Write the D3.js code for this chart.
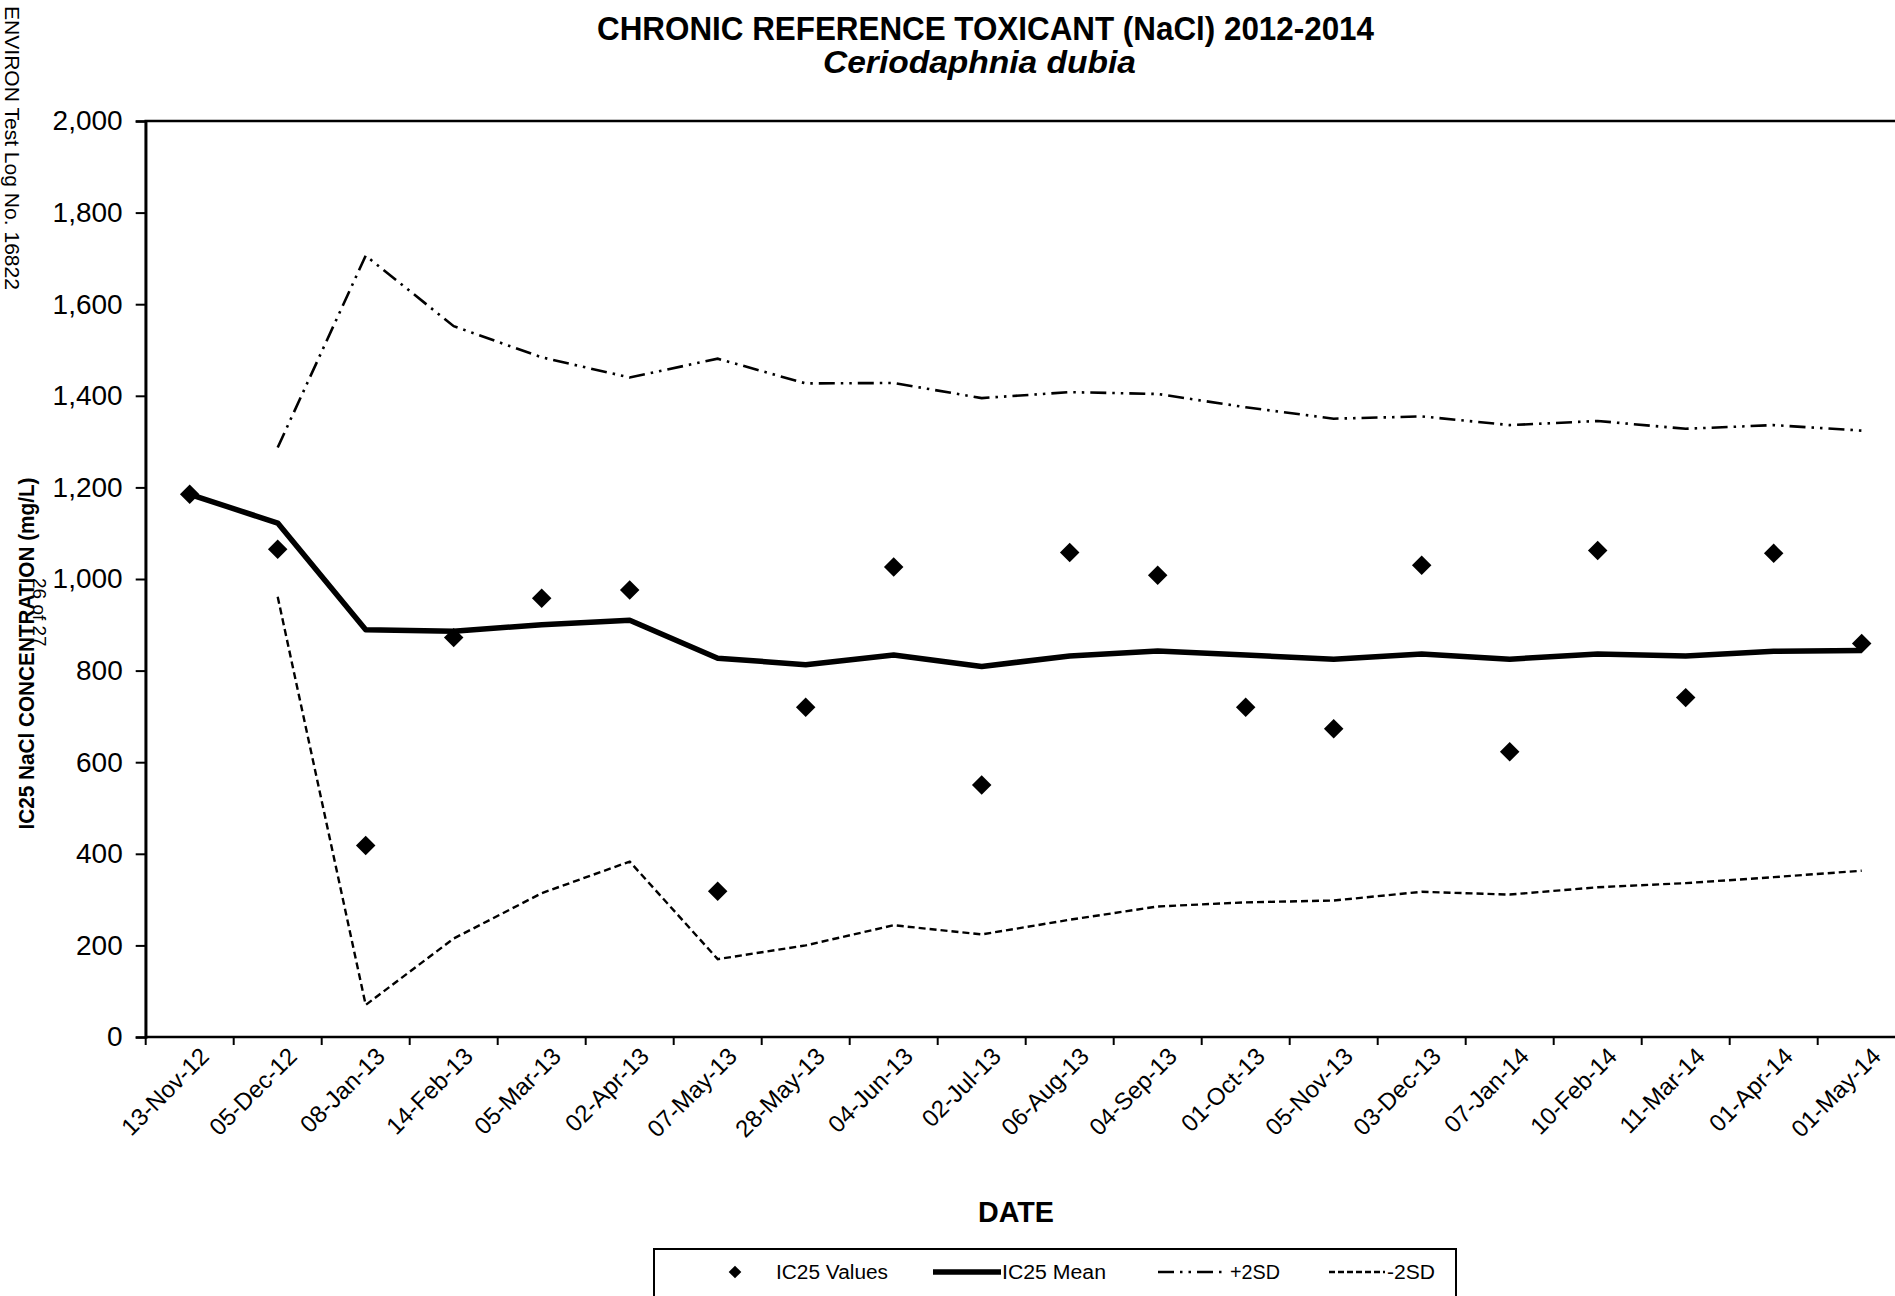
<!DOCTYPE html>
<html>
<head>
<meta charset="utf-8">
<script src="https://cdn.jsdelivr.net/npm/d3@7/dist/d3.min.js"></script>
<style>
  html, body { margin: 0; padding: 0; background: #fff; }
  svg { display: block; font-family: "Liberation Sans", Arial, sans-serif; }
</style>
</head>
<body>
<svg id="chart" width="1895" height="1296"></svg>
<script>
const dates = ["13-Nov-12","05-Dec-12","08-Jan-13","14-Feb-13","05-Mar-13","02-Apr-13","07-May-13","28-May-13","04-Jun-13","02-Jul-13","06-Aug-13","04-Sep-13","01-Oct-13","05-Nov-13","03-Dec-13","07-Jan-14","10-Feb-14","11-Mar-14","01-Apr-14","01-May-14"];
const ic25Values = [1185,1065,418,872,958,976,318,720,1026,550,1058,1008,720,673,1030,623,1062,741,1056,859];
const ic25Mean   = [1185,1122,889,886,900,910,827,813,834,809,832,843,834,825,836,825,836,832,842,844];
const plus2SD    = [null,1287,1706,1552,1484,1440,1481,1427,1428,1395,1408,1404,1375,1350,1355,1336,1345,1328,1336,1324];
const minus2SD   = [null,961,70,215,314,383,170,200,244,224,256,285,294,298,317,311,327,336,349,363];
const yTicks = [0,200,400,600,800,1000,1200,1400,1600,1800,2000];

const svg = d3.select("#chart");
const pLeft = 145.7, pTop = 121, pBottom = 1037, bw = 88;
const pRight = pLeft + bw * dates.length;

const x = d3.scaleBand().domain(dates).range([pLeft, pRight]).paddingInner(0).paddingOuter(0);
const y = d3.scaleLinear().domain([0, 2000]).range([pBottom, pTop]);
const cx = d => x(d) + x.bandwidth() / 2;

// Title
svg.append("text").attr("x", 985.5).attr("y", 40).attr("text-anchor", "middle")
  .attr("font-size", 34).attr("font-weight", "bold")
  .attr("textLength", 777).attr("lengthAdjust", "spacingAndGlyphs")
  .text("CHRONIC REFERENCE TOXICANT (NaCl) 2012-2014");
svg.append("text").attr("x", 979.5).attr("y", 73).attr("text-anchor", "middle")
  .attr("font-size", 32).attr("font-weight", "bold").attr("font-style", "italic")
  .attr("textLength", 313).attr("lengthAdjust", "spacingAndGlyphs")
  .text("Ceriodaphnia dubia");

// side stamp
svg.append("text").attr("transform", "translate(5,6) rotate(90)")
  .attr("font-size", 21).attr("textLength", 284).attr("lengthAdjust", "spacingAndGlyphs")
  .text("ENVIRON Test Log No. 16822");
svg.append("text").attr("transform", "translate(33,578) rotate(90)")
  .attr("font-size", 19).text("26 of 27");

// Plot frame
svg.append("rect").attr("x", pLeft).attr("y", pTop).attr("width", pRight - pLeft).attr("height", pBottom - pTop)
  .attr("fill", "none").attr("stroke", "#000").attr("stroke-width", 2.5);

// Y axis
const yAxis = d3.axisLeft(y).tickValues(yTicks).tickFormat(d3.format(",")).tickSize(10).tickPadding(13);
const gy = svg.append("g").attr("transform", `translate(${pLeft},0)`).call(yAxis);
gy.select(".domain").attr("stroke-width", 2.5);
gy.selectAll(".tick line").attr("stroke-width", 2);
gy.selectAll(".tick text").attr("font-size", 28).attr("font-family", "'Liberation Sans', Arial, sans-serif").attr("fill", "#000");

// Y label
svg.append("text").attr("transform", `translate(34,${(475+832)/2}) rotate(-90)`)
  .attr("text-anchor", "middle").attr("font-size", 22).attr("font-weight", "bold")
  .attr("textLength", 352).attr("lengthAdjust", "spacingAndGlyphs")
  .text("IC25 NaCl CONCENTRATION (mg/L)");

// X axis ticks at band boundaries
const tickPos = dates.map(d => x(d)).concat([pRight]);
svg.append("g").selectAll("line").data(tickPos).join("line")
  .attr("x1", d => d).attr("x2", d => d).attr("y1", pBottom).attr("y2", pBottom + 8)
  .attr("stroke", "#000").attr("stroke-width", 2);

// X labels
svg.append("g").selectAll("text").data(dates).join("text")
  .attr("transform", d => `translate(${cx(d) + 8},${pBottom + 8}) rotate(-45)`)
  .attr("text-anchor", "end").attr("font-size", 24).attr("dy", "0.75em")
  .text(d => d);

svg.append("text").attr("x", 1016).attr("y", 1222).attr("text-anchor", "middle")
  .attr("font-size", 30).attr("font-weight", "bold")
  .attr("textLength", 76).attr("lengthAdjust", "spacingAndGlyphs").text("DATE");

// Lines
const mkLine = arr => d3.line().defined((d, i) => arr[i] != null)
  .x((d, i) => cx(dates[i])).y((d, i) => y(arr[i]));

svg.append("path").attr("d", mkLine(plus2SD)(plus2SD))
  .attr("fill", "none").attr("stroke", "#000").attr("stroke-width", 2.6)
  .attr("stroke-dasharray", "16,6,2.5,6,2.5,6");
svg.append("path").attr("d", mkLine(minus2SD)(minus2SD))
  .attr("fill", "none").attr("stroke", "#000").attr("stroke-width", 2.4)
  .attr("stroke-dasharray", "7,4");
svg.append("path").attr("d", mkLine(ic25Mean)(ic25Mean))
  .attr("fill", "none").attr("stroke", "#000").attr("stroke-width", 5.5).attr("stroke-linejoin", "round");

// Diamonds
const diamond = d3.symbol().type(d3.symbolSquare).size(190);
svg.append("g").selectAll("path").data(ic25Values).join("path")
  .attr("d", diamond)
  .attr("transform", (d, i) => `translate(${cx(dates[i])},${y(d)}) rotate(45)`)
  .attr("fill", "#000");

// Legend
const lg = svg.append("g");
lg.append("rect").attr("x", 654).attr("y", 1249).attr("width", 802).attr("height", 80)
  .attr("fill", "#fff").attr("stroke", "#000").attr("stroke-width", 2);
const ly = 1272;
lg.append("path").attr("d", d3.symbol().type(d3.symbolSquare).size(80))
  .attr("transform", `translate(735,${ly}) rotate(45)`).attr("fill", "#000");
lg.append("line").attr("x1", 933).attr("x2", 1001).attr("y1", ly).attr("y2", ly)
  .attr("stroke", "#000").attr("stroke-width", 5.5);
lg.append("line").attr("x1", 1158).attr("x2", 1227).attr("y1", ly).attr("y2", ly)
  .attr("stroke", "#000").attr("stroke-width", 2.6).attr("stroke-dasharray", "16,6,2.5,6,2.5,6");
lg.append("line").attr("x1", 1329).attr("x2", 1385).attr("y1", ly).attr("y2", ly)
  .attr("stroke", "#000").attr("stroke-width", 2.4).attr("stroke-dasharray", "6,3");
const legTexts = [["IC25 Values", 776, 112], ["IC25 Mean", 1002, 104], ["+2SD", 1230, 50], ["-2SD", 1387, 48]];
lg.selectAll("text.l").data(legTexts).join("text").attr("class", "l")
  .attr("x", d => d[1]).attr("y", ly).attr("dy", "0.36em").attr("font-size", 20)
  .attr("textLength", d => d[2]).attr("lengthAdjust", "spacingAndGlyphs")
  .text(d => d[0]);
</script>
</body>
</html>
